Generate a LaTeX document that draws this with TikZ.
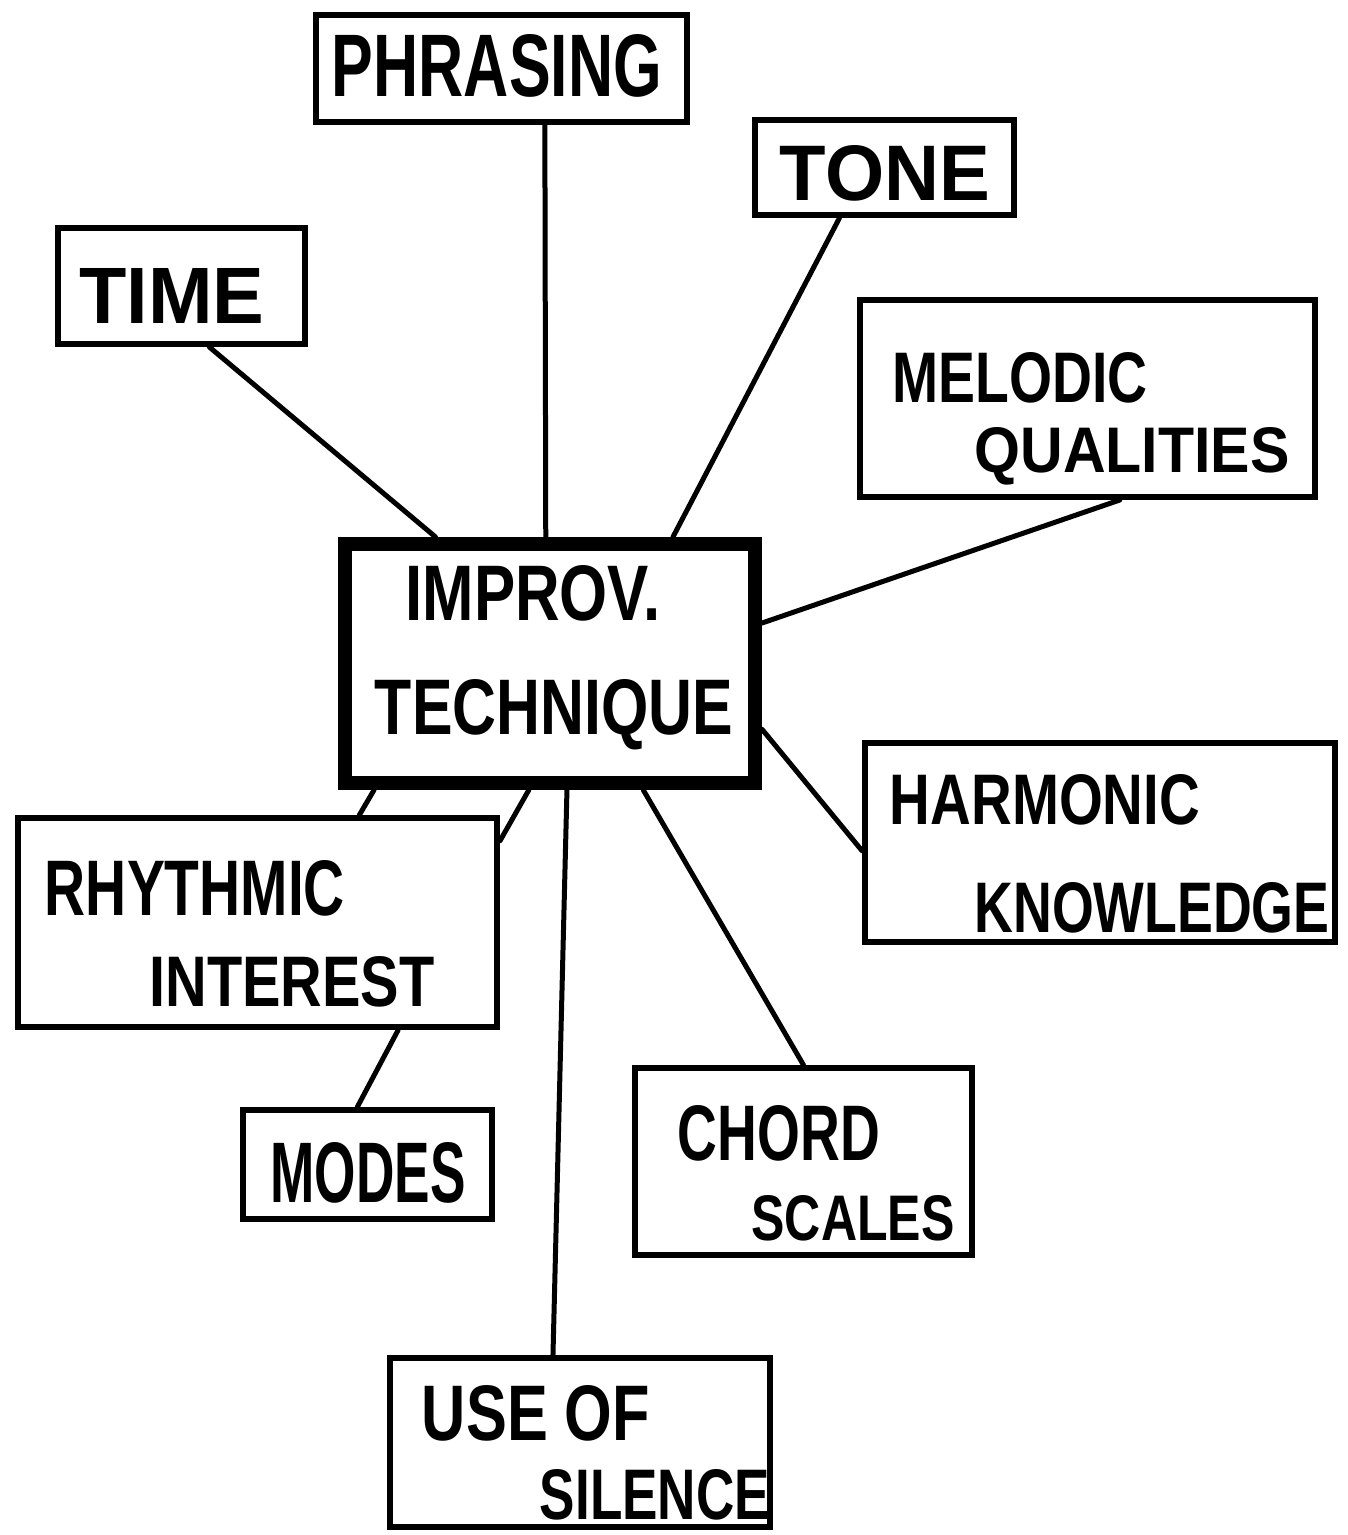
\documentclass[tikz,border=0pt]{standalone}
\usepackage{fontspec}
\setmainfont{Liberation Sans}
\usetikzlibrary{calc}
\newcommand{\hw}[3]{\resizebox{#1pt}{#2pt}{\bfseries #3}}
\tikzset{
  box/.style={draw=black, line width=6pt, rectangle, inner sep=0pt},
  mainbox/.style={draw=black, line width=14pt, rectangle, inner sep=0pt},
  lbl/.style={inner sep=0pt, anchor=center},
  conn/.style={draw=black, line width=5pt, line cap=round}
}
\begin{document}
\begin{tikzpicture}[x=1pt,y=-1pt]
\useasboundingbox[fill=white] (0,0) rectangle (1348,1535);
% boxes
\node[box, minimum width=371pt, minimum height=107pt] (phr) at (501.5,68.5) {};
\node[box, minimum width=259pt, minimum height=95pt] (tone) at (884.5,167.5) {};
\node[box, minimum width=247pt, minimum height=116pt] (time) at (181.5,286) {};
\node[box, minimum width=455pt, minimum height=197pt] (mel) at (1087.5,398.5) {};
\node[mainbox, minimum width=410pt, minimum height=239pt] (imp) at (550,663.5) {};
\node[box, minimum width=470pt, minimum height=199pt] (har) at (1100,842.5) {};
\node[box, minimum width=479pt, minimum height=209pt] (rhy) at (257.5,922.5) {};
\node[box, minimum width=249pt, minimum height=109pt] (mod) at (367.5,1164.5) {};
\node[box, minimum width=337pt, minimum height=187pt] (cho) at (803.5,1161.5) {};
\node[box, minimum width=380pt, minimum height=169pt] (sil) at (580,1442.5) {};
% labels
\node[lbl] (tphr) at (497,66) {\hw{330}{62}{PHRASING}};
\node[lbl] (ttone) at (885,173) {\hw{210}{55}{TONE}};
\node[lbl] (ttime) at (172,296) {\hw{185}{55}{TIME}};
\node[lbl] (tmel1) at (1020,378) {\hw{255}{50}{MELODIC}};
\node[lbl] (tmel2) at (1132,456) {\hw{315}{45}{QUALITIES}};
\node[lbl] (timp1) at (533,593) {\hw{255}{55}{IMPROV.}};
\node[lbl] (timp2) at (554,715) {\hw{358}{55}{TECHNIQUE}};
\node[lbl] (thar1) at (1045,800) {\hw{310}{50}{HARMONIC}};
\node[lbl] (thar2) at (1152,908) {\hw{355}{50}{KNOWLEDGE}};
\node[lbl] (trhy1) at (195,888) {\hw{300}{55}{RHYTHMIC}};
\node[lbl] (trhy2) at (292,982) {\hw{285}{50}{INTEREST}};
\node[lbl] (tmod) at (368,1173) {\hw{195}{60}{MODES}};
\node[lbl] (tcho1) at (779,1133) {\hw{202}{55}{CHORD}};
\node[lbl] (tcho2) at (853,1218) {\hw{203}{45}{SCALES}};
\node[lbl] (tsil1) at (536,1413) {\hw{228}{55}{USE OF}};
\node[lbl] (tsil2) at (655,1495) {\hw{230}{50}{SILENCE}};
% connectors
\draw[conn] ($(time.south west)!0.61!(time.south east)$) -- ($(imp.north west)!0.23!(imp.north east)$);
\draw[conn] ($(phr.south west)!0.615!(phr.south east)$) -- ($(imp.north west)!0.49!(imp.north east)$);
\draw[conn] ($(tone.south west)!0.33!(tone.south east)$) -- ($(imp.north west)!0.79!(imp.north east)$);
\draw[conn] ($(mel.south west)!0.57!(mel.south east)$) -- ($(imp.north east)!0.34!(imp.south east)$);
\draw[conn] ($(har.north west)!0.54!(har.south west)$) -- ($(imp.north east)!0.76!(imp.south east)$);
\draw[conn] ($(rhy.north west)!0.71!(rhy.north east)$) -- ($(imp.south west)!0.085!(imp.south east)$);
\draw[conn] ($(rhy.north east)!0.12!(rhy.south east)$) -- ($(imp.south west)!0.45!(imp.south east)$);
\draw[conn] ($(mod.north west)!0.46!(mod.north east)$) -- ($(rhy.south west)!0.79!(rhy.south east)$);
\draw[conn] ($(cho.north west)!0.5!(cho.north east)$) -- ($(imp.south west)!0.72!(imp.south east)$);
\draw[conn] ($(sil.north west)!0.43!(sil.north east)$) -- ($(imp.south west)!0.54!(imp.south east)$);
\end{tikzpicture}
\end{document}
